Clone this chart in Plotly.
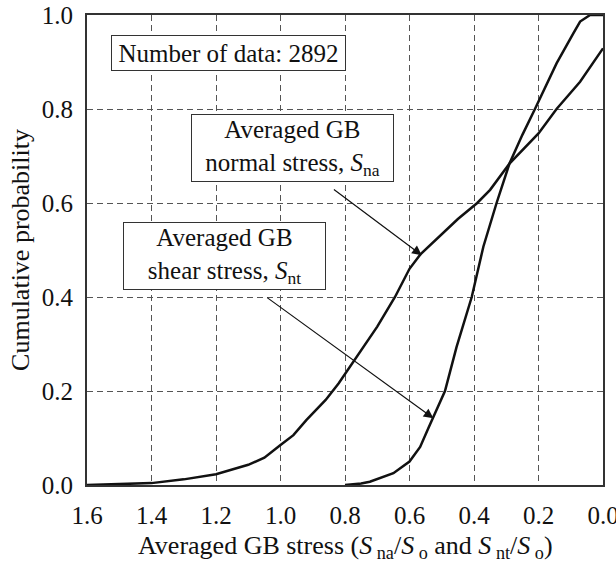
import plotly.graph_objects as go

# Averaged GB normal stress S_na/S_o vs cumulative probability
normal_x = [1.6, 1.5, 1.4, 1.3, 1.2, 1.1, 1.05, 1.0, 0.96, 0.92, 0.86, 0.82, 0.775,
            0.7, 0.645, 0.6, 0.567, 0.5, 0.45, 0.39, 0.35, 0.29, 0.2, 0.144, 0.071, 0.0]
normal_p = [0.0, 0.002, 0.004, 0.012, 0.023, 0.043, 0.058, 0.085, 0.106, 0.138, 0.181, 0.216, 0.262,
            0.337, 0.4, 0.46, 0.49, 0.534, 0.566, 0.6, 0.628, 0.684, 0.748, 0.8, 0.858, 0.929]

# Averaged GB shear stress S_nt/S_o vs cumulative probability
shear_x = [0.8, 0.75, 0.723, 0.65, 0.6, 0.567, 0.542, 0.521, 0.49, 0.454, 0.407,
           0.371, 0.33, 0.29, 0.25, 0.211, 0.144, 0.092, 0.071, 0.04, 0.0]
shear_p = [0.0, 0.003, 0.007, 0.025, 0.05, 0.081, 0.12, 0.153, 0.2, 0.294, 0.4,
           0.507, 0.6, 0.684, 0.745, 0.8, 0.897, 0.961, 0.986, 1.0, 1.0]

FONT = "Times New Roman"
INK = "#111111"

fig = go.Figure()
for xs, ps, name in [(normal_x, normal_p, "normal"), (shear_x, shear_p, "shear")]:
    fig.add_trace(go.Scatter(
        x=xs, y=ps, mode="lines", name=name,
        line=dict(color=INK, width=2.5),
        showlegend=False,
    ))

axis_style = dict(
    showline=True, linecolor="#333333", linewidth=2, mirror=True,
    showgrid=True, gridcolor="#555555", gridwidth=1, griddash="6px,4px",
    zeroline=False, ticks="outside", ticklen=7, tickcolor="rgba(0,0,0,0)",
    tickfont=dict(family=FONT, size=25, color=INK),
    tickformat=".1f", dtick=0.2, automargin=False, ticklabeloverflow="allow",
)

fig.update_xaxes(range=[1.6, 0.0], **axis_style)
fig.update_yaxes(range=[0.0, 1.0], **axis_style)

# axis titles placed as paper annotations
fig.add_annotation(
    x=0.5, y=-0.131, xref="paper", yref="paper", xanchor="center", yanchor="middle",
    showarrow=False,
    text="Averaged GB stress (<i>S</i><sub> na</sub>/<i>S</i><sub> o</sub> and "
         "<i>S</i><sub> nt</sub>/<i>S</i><sub> o</sub>)",
    font=dict(family=FONT, size=26, color=INK),
)
fig.add_annotation(
    x=-0.13, y=0.5, xref="paper", yref="paper", xanchor="center", yanchor="middle",
    showarrow=False, textangle=-90, text="Cumulative probability",
    font=dict(family=FONT, size=26, color=INK),
)

box = dict(xref="paper", yref="paper", xanchor="center", yanchor="middle",
           showarrow=False, bgcolor="white", bordercolor="#333333",
           borderwidth=1, borderpad=3,
           font=dict(family=FONT, size=25, color=INK))

fig.add_annotation(x=0.2736, y=0.919, text="Number of data: 2892",
                   width=227, height=28, **box)
fig.add_annotation(x=0.398, y=0.718,
                   text="Averaged GB<br>normal stress, <i>S</i><sub>na</sub>",
                   width=195, height=60, **box)
fig.add_annotation(x=0.267, y=0.487,
                   text="Averaged GB<br>shear stress, <i>S</i><sub>nt</sub>",
                   width=195, height=60, **box)

# arrows from the label boxes to the curves
for (hx, hy), (tx, ty) in [((0.562, 0.489), (0.839, 0.631)),
                           ((0.526, 0.142), (1.046, 0.401))]:
    fig.add_annotation(x=hx, y=hy, ax=tx, ay=ty, xref="x", yref="y",
                       axref="x", ayref="y", text="", showarrow=True,
                       arrowhead=2, arrowsize=1.6, arrowwidth=1.2,
                       arrowcolor=INK)

fig.update_layout(
    width=616, height=563,
    margin=dict(l=87, r=13, t=15, b=78),
    plot_bgcolor="white", paper_bgcolor="white",
)

fig.write_html("out.html", config={"displayModeBar": False})

# drop the browser's default page margin so the figure sits at the window's corner
with open("out.html", encoding="utf-8") as f:
    html = f.read()
html = html.replace("<head>", "<head><style>body{margin:0;}</style>", 1)
with open("out.html", "w", encoding="utf-8") as f:
    f.write(html)
